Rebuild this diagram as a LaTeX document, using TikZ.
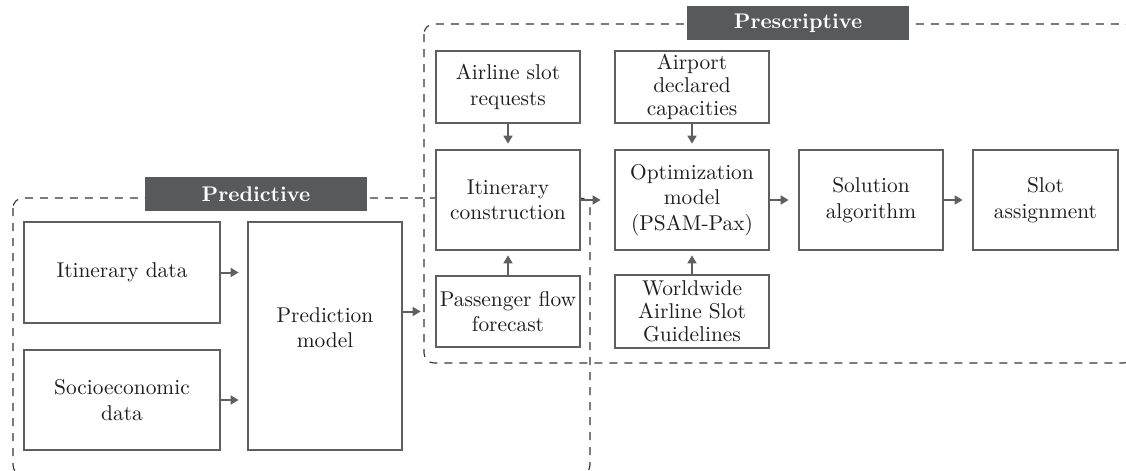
\documentclass[tikz,border=0pt]{standalone}
\usetikzlibrary{arrows.meta}
\definecolor{edge}{HTML}{5F5F5F}
\definecolor{tag}{HTML}{58595B}
\definecolor{ink}{HTML}{1E1E1E}
\tikzset{
  box/.style={draw=edge, line width=1.3pt, fill=white, align=center, text=ink,
    inner sep=1pt, font=\fontsize{10.7}{12.75}\selectfont},
  tight/.style={inner sep=0pt, font=\fontsize{10.7}{11.6}\selectfont},
  tagbox/.style={fill=tag, text=white, inner sep=0pt,
    font=\fontsize{10.6}{12}\selectfont\bfseries},
  region/.style={draw=ink!90, line width=0.55pt, dash pattern=on 4pt off 3.5pt,
    rounded corners=5pt},
  flow/.style={draw=edge, line width=1pt, -{Triangle[length=4pt,width=4.4pt]}},
}
\begin{document}
\begin{tikzpicture}[x=0.5pt, y=-0.5pt]
\useasboundingbox (0,0) rectangle (1126,471);
\clip (0,0) rectangle (1126,471);

% stage regions
\draw[region] (13,198) rectangle (590,475);
\draw[region] (424,24) rectangle (1134,363);

% stage titles
\node[tagbox, minimum width=111pt, minimum height=17pt] (tpred) at (256,194) {Predictive};
\node[tagbox, minimum width=111pt, minimum height=17pt] (tpres) at (798,23) {Prescriptive};

% predictive stage
\node[box, minimum width=98pt, minimum height=50.5pt] (itd) at (122,272.5) {Itinerary data};
\node[box, minimum width=98pt, minimum height=50pt] (soc) at (122,400) {Socioeconomic\\data};
\node[box, minimum width=77pt, minimum height=114pt] (pred) at (325,336) {Prediction\\model\\[-4.25pt]};

% prescriptive stage
\node[box, minimum width=72pt, minimum height=36pt] (asr) at (508,87) {Airline slot\\requests};
\node[box, minimum width=72pt, minimum height=50pt] (itc) at (508,200) {Itinerary\\construction};
\node[box, minimum width=72pt, minimum height=35.5pt] (pff) at (508,311.5) {Passenger flow\\forecast};
\node[box, tight, minimum width=77pt, minimum height=36pt] (adc) at (692,87) {Airport\\declared\\capacities};
\node[box, minimum width=77pt, minimum height=50pt] (opt) at (692,200) {Optimization\\model\\(PSAM-Pax)};
\node[box, tight, minimum width=77pt, minimum height=36.5pt] (wasg) at (692,311.5) {Worldwide\\Airline Slot\\Guidelines};
\node[box, minimum width=72pt, minimum height=50pt] (sol) at (871,200) {Solution\\algorithm};
\node[box, minimum width=72.5pt, minimum height=50pt] (slot) at (1045.5,200) {Slot\\assignment};

% connectors
\draw[flow, shorten >=4pt] (itd.east) -- (itd.east -| pred.west);
\draw[flow, shorten >=4pt] (soc.east) -- (soc.east -| pred.west);
\draw[flow, shorten >=7pt] (pred.east |- pff.west) -- (pff.west);
\draw[flow, shorten >=2.5pt] (asr.south) -- (itc.north);
\draw[flow, shorten >=2pt] (pff.north) -- (itc.south);
\draw[flow, shorten >=2.5pt] (adc.south) -- (opt.north);
\draw[flow, shorten >=2pt] (wasg.north) -- (opt.south);
\draw[flow, shorten >=6.5pt] (itc.east) -- (opt.west);
\draw[flow, shorten >=4.5pt] (opt.east) -- (sol.west);
\draw[flow, shorten >=4.5pt] (sol.east) -- (slot.west);
\end{tikzpicture}
\end{document}
